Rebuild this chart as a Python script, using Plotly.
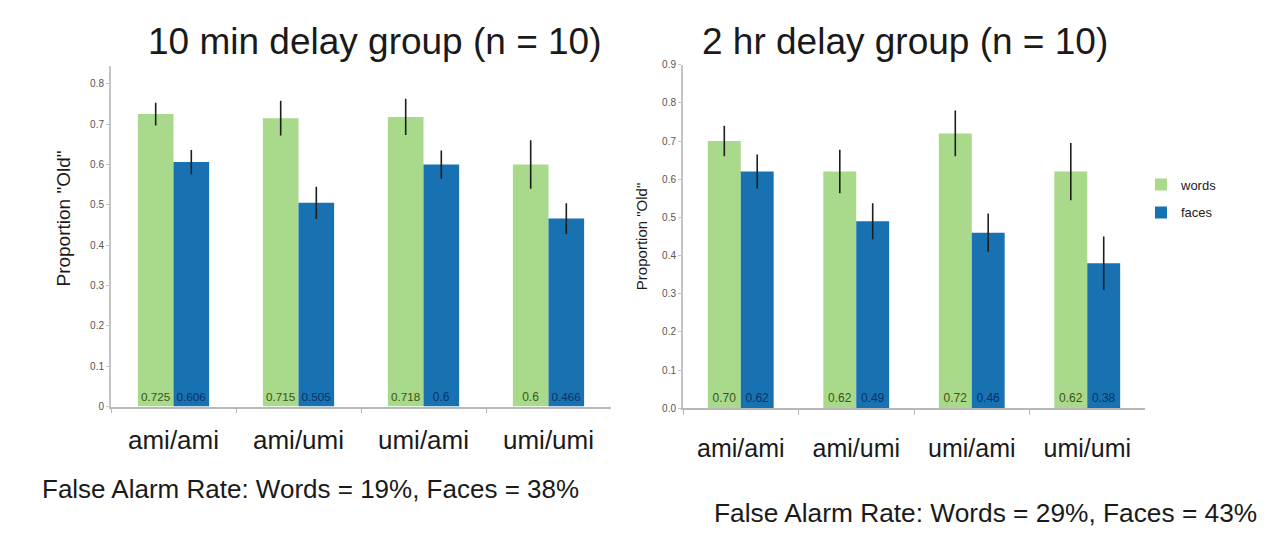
import plotly.graph_objects as go

W, H = 1269, 534

conditions = ["ami/ami", "ami/umi", "umi/ami", "umi/umi"]

# 10 min delay group
words_10min = [0.725, 0.715, 0.718, 0.6]
faces_10min = [0.606, 0.505, 0.6, 0.466]
words_10min_err = [0.028, 0.043, 0.045, 0.06]
faces_10min_err = [0.03, 0.04, 0.035, 0.038]

# 2 hr delay group
words_2hr = [0.70, 0.62, 0.72, 0.62]
faces_2hr = [0.62, 0.49, 0.46, 0.38]
words_2hr_err = [0.04, 0.057, 0.06, 0.075]
faces_2hr_err = [0.045, 0.047, 0.05, 0.07]

GREEN = "#a9d98b"
BLUE = "#1872b2"
FONT = "Liberation Sans, Arial, sans-serif"


def px_x(p):
    return p / W


def px_y(p):
    return 1 - p / H


def bar(name, x, y, err, labels, color, txtcolor, xa, ya, show):
    return go.Bar(
        name=name, x=x, y=y, xaxis=xa, yaxis=ya,
        marker=dict(color=color, line=dict(width=0)),
        error_y=dict(type="data", array=err, visible=True,
                     color="#1e1e1e", thickness=1.6, width=0),
        text=labels, textposition="inside", insidetextanchor="start",
        textangle=0, textfont=dict(size=12, color=txtcolor, family=FONT),
        legendgroup=name, showlegend=show,
    )


fig = go.Figure()
fig.add_trace(bar("words", conditions, words_10min, words_10min_err,
                  [f"{v:g}" for v in words_10min], GREEN, "#3a5512", "x", "y", False))
fig.add_trace(bar("faces", conditions, faces_10min, faces_10min_err,
                  [f"{v:g}" for v in faces_10min], BLUE, "#0b2f66", "x", "y", False))
fig.add_trace(bar("words", conditions, words_2hr, words_2hr_err,
                  [f"{v:.2f}" for v in words_2hr], GREEN, "#3a5512", "x2", "y2", True))
fig.add_trace(bar("faces", conditions, faces_2hr, faces_2hr_err,
                  [f"{v:.2f}" for v in faces_2hr], BLUE, "#0b2f66", "x2", "y2", True))

xcommon = dict(
    type="category", showline=True, linecolor="#b8b8b8", linewidth=1.5,
    ticks="outside", tickson="boundaries", ticklen=5, tickcolor="#b8b8b8",
    showgrid=False, zeroline=False, fixedrange=True,
    tickfont=dict(size=26, color="#1a1a1a", family=FONT),
)
ycommon = dict(
    showline=True, linecolor="#c4c4c4", linewidth=2,
    ticks="outside", ticklen=3, tickcolor="#c4c4c4",
    showgrid=False, zeroline=False, dtick=0.1, tick0=0,
    tickfont=dict(size=10, color="#555555", family=FONT),
)

fig.update_layout(
    width=W, height=H,
    margin=dict(l=0, r=0, t=0, b=0),
    paper_bgcolor="white", plot_bgcolor="white",
    barmode="group", bargap=0.43, bargroupgap=0,
    font=dict(family=FONT, color="#1a1a1a"),
    xaxis=dict(xcommon, domain=[px_x(111), px_x(611)], anchor="y",
               range=[-0.5, 3.5], ticklabelstandoff=9),
    yaxis=dict(ycommon, domain=[px_y(410), px_y(62)], anchor="x",
               range=[0, 0.845]),
    xaxis2=dict(xcommon, domain=[px_x(683), px_x(1145)], anchor="y2",
                range=[-0.5, 3.5], ticklabelstandoff=17,
                tickfont=dict(size=25, color="#1a1a1a", family=FONT)),
    yaxis2=dict(ycommon, domain=[px_y(411.7), px_y(61)], anchor="x2",
                range=[0, 0.9], tickformat=".1f"),
    legend=dict(x=px_x(1141), y=px_y(168), xanchor="left", yanchor="top",
                bgcolor="rgba(0,0,0,0)", font=dict(size=13, color="#222222"),
                traceorder="grouped", tracegroupgap=8,
                itemwidth=30),
)

annotations = [
    dict(text="10 min delay group (n = 10)", x=px_x(375), y=px_y(37),
         font=dict(size=37)),
    dict(text="2 hr delay group (n = 10)", x=px_x(905), y=px_y(37),
         font=dict(size=37)),
    dict(text="Proportion \"Old\"", x=px_x(64), y=px_y(218), textangle=-90,
         font=dict(size=19)),
    dict(text="Proportion \"Old\"", x=px_x(641), y=px_y(236), textangle=-90,
         font=dict(size=15)),
    dict(text="False Alarm Rate: Words = 19%, Faces = 38%", x=px_x(310),
         y=px_y(494), font=dict(size=26)),
    dict(text="False Alarm Rate: Words = 29%, Faces = 43%", x=px_x(985),
         y=px_y(519), font=dict(size=26.3)),
]
for a in annotations:
    a.update(xref="paper", yref="paper", showarrow=False,
             xanchor="center", yanchor="middle")
    a["font"].update(family=FONT, color="#1a1a1a")
fig.update_layout(annotations=annotations)

fig.write_html("out.html")
